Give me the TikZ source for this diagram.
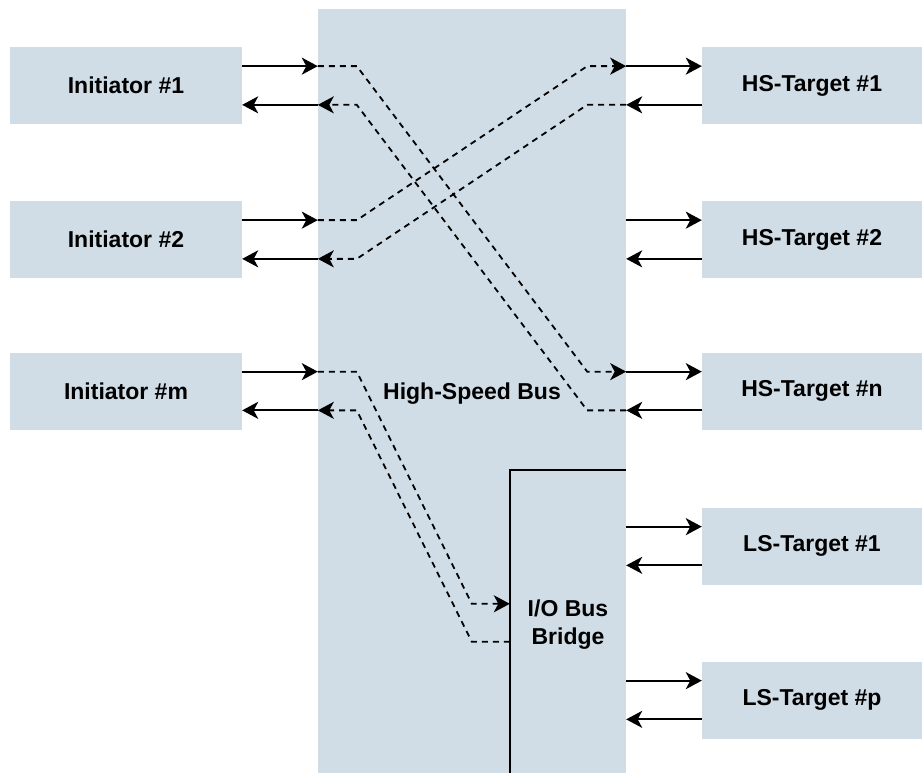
\documentclass[tikz,border=0pt]{standalone}
\usepackage{fontspec}
\setmainfont{Liberation Sans}
\usetikzlibrary{arrows.meta,calc}
\definecolor{busfill}{RGB}{208,221,230}
\begin{document}
\begin{tikzpicture}[x=1pt,y=-1pt,
  every node/.style={font=\fontsize{23}{28}\selectfont\bfseries, inner sep=0pt},
  sidebox/.style={fill=busfill, minimum height=77pt},
  initbox/.style={sidebox, minimum width=232pt},
  tgtbox/.style={sidebox, minimum width=220pt},
  >={Stealth[length=16pt,width=17pt,inset=4.5pt]},
  sol/.style={line width=2pt, ->},
  dsh/.style={line width=1.8pt, dash pattern=on 6pt off 5pt, ->},
  edge/.style={line width=2pt}
]
\useasboundingbox (0,0) rectangle (922,773);

% high-speed bus and the bridge hanging off it
\node[fill=busfill, minimum width=308pt, minimum height=764pt] (bus) at (472,391) {};
\node (buslabel) at ($(bus.center)+(0,3)$) {High-Speed Bus};
\node[minimum width=116pt, minimum height=303pt] (bridge) at (568,621.5) {};
\node[align=center] (bridgelabel) at ($(bridge.center)+(0,3.5)$) {I/O Bus\\Bridge};
\draw[edge] (bridge.south west) -- (bridge.north west) -- (bridge.north east);
\coordinate (br-in)  at ($(bridge.north west)+(0,134)$);
\coordinate (br-out) at ($(bridge.north west)+(0,172)$);

% initiators
\node[initbox] (i1) at (126,85.5) {Initiator \#1};
\node[initbox] (i2) at (126,239.5) {Initiator \#2};
\node[initbox] (im) at (126,391) {Initiator \#m};

% targets
\node[tgtbox] (hs1) at (812,85.5) {HS-Target \#1};
\node[tgtbox] (hs2) at (812,239.5) {HS-Target \#2};
\node[tgtbox] (hsn) at (812,391) {HS-Target \#n};
\node[tgtbox] (ls1) at (812,546) {LS-Target \#1};
\node[tgtbox] (lsp) at (812,700) {LS-Target \#p};

% request / response ports on the initiator side
\foreach \n in {i1,i2,im} {
  \coordinate (\n-a) at ($(\n.north east)!.25!(\n.south east)$);
  \coordinate (\n-b) at ($(\n.north east)!.75!(\n.south east)$);
  \draw[sol] (\n-a) -- (bus.west |- \n-a);
  \draw[sol] (bus.west |- \n-b) -- (\n-b);
}

% request / response ports on the target side
\foreach \n in {hs1,hs2,hsn,ls1,lsp} {
  \coordinate (\n-a) at ($(\n.north west)!.25!(\n.south west)$);
  \coordinate (\n-b) at ($(\n.north west)!.75!(\n.south west)$);
  \draw[sol] (bus.east |- \n-a) -- (\n-a);
  \draw[sol] (\n-b) -- (bus.east |- \n-b);
}

% routes through the bus
\draw[dsh] (bus.west |- i1-a) -- ++(39,0) -- ($(bus.east |- hsn-a)+(-39,0)$) -- (bus.east |- hsn-a);
\draw[dsh] (bus.east |- hsn-b) -- ++(-39,0) -- ($(bus.west |- i1-b)+(39,0)$) -- (bus.west |- i1-b);
\draw[dsh] (bus.west |- i2-a) -- ++(39,0) -- ($(bus.east |- hs1-a)+(-39,0)$) -- (bus.east |- hs1-a);
\draw[dsh] (bus.east |- hs1-b) -- ++(-39,0) -- ($(bus.west |- i2-b)+(39,0)$) -- (bus.west |- i2-b);
\draw[dsh] (bus.west |- im-a) -- ++(39,0) -- ($(br-in)+(-38,0)$) -- (br-in);
\draw[dsh] (br-out) -- ++(-38,0) -- ($(bus.west |- im-b)+(39,0)$) -- (bus.west |- im-b);
\end{tikzpicture}
\end{document}
